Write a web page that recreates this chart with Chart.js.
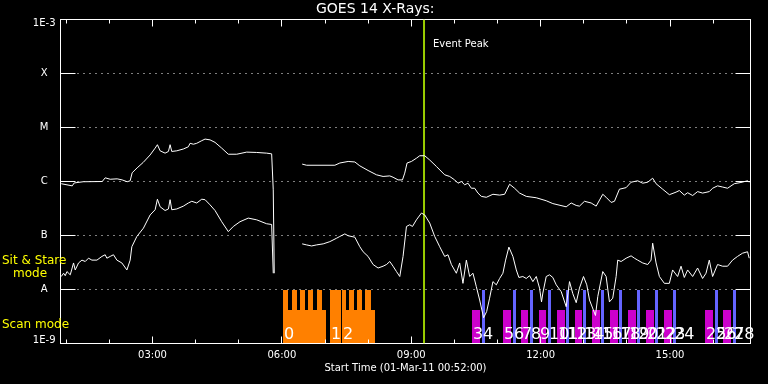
<!DOCTYPE html>
<html><head><meta charset="utf-8">
<script src="https://cdn.jsdelivr.net/npm/chart.js@4.4.0/dist/chart.umd.min.js"></script>
<style>html,body{margin:0;padding:0;background:#000;overflow:hidden;}</style>
</head><body>
<canvas id="c" width="768" height="384"></canvas>
<script>
// Hours since 00:00 UT on 01-Mar-11; null flux = data gap
const longTimes = [
 0.884,1.139,1.185,1.394,1.834,1.903,2.019,2.181,2.297,2.412,2.482,2.528,2.644,2.783,2.945,3.061,3.114,3.177,3.292,3.369,
 3.408,3.447,3.563,3.716,3.832,3.871,3.948,4.026,4.142,4.219,4.334,4.450,4.605,4.758,4.953,5.184,5.416,5.647,5.763,5.800,5.823,
 6.2,
 6.471,6.573,7.229,7.344,7.537,7.692,7.807,7.999,8.194,8.347,8.502,8.578,8.694,8.796,8.849,8.903,9.004,9.120,9.197,9.312,
 9.428,9.583,9.775,9.891,10.007,10.083,10.162,10.239,10.315,10.394,10.470,10.547,10.625,10.741,10.894,11.049,11.165,11.280,11.396,11.512,
 11.667,11.899,12.130,12.283,12.593,12.709,12.825,12.901,13.017,13.172,13.288,13.441,13.519,13.635,13.712,13.827,13.983,14.098,14.251,14.367,
 14.483,14.598,14.677,14.830,14.985,15.140,15.217,15.332,15.409,15.525,15.640,15.756,15.911,15.988,16.103,16.219,16.335,16.490,16.645,16.798,16.837
];
const longFlux = [
 9.1e-7,8.3e-7,9.4e-7,9.9e-7,1.0e-6,1.17e-6,1.1e-6,1.12e-6,1.07e-6,9.9e-7,1.03e-6,1.45e-6,1.79e-6,2.25e-6,3.1e-6,4.15e-6,4.8e-6,3.7e-6,3.35e-6,3.6e-6,
 4.8e-6,3.6e-6,3.7e-6,4.0e-6,4.4e-6,5.1e-6,4.9e-6,5.1e-6,5.7e-6,6.1e-6,5.9e-6,5.3e-6,4.15e-6,3.2e-6,3.2e-6,3.5e-6,3.45e-6,3.35e-6,3.25e-6,7.0e-7,2.0e-8,
 null,
 2.1e-6,2.0e-6,2.0e-6,2.2e-6,2.35e-6,2.3e-6,1.95e-6,1.6e-6,1.33e-6,1.24e-6,1.27e-6,1.2e-6,1.07e-6,1.07e-6,1.43e-6,2.2e-6,2.35e-6,2.7e-6,3.0e-6,3.0e-6,
 2.5e-6,1.9e-6,1.33e-6,1.24e-6,1.07e-6,9.3e-7,1.0e-6,8.7e-7,9.3e-7,7.5e-7,7.5e-7,6.1e-7,5.3e-7,5.1e-7,5.8e-7,5.6e-7,5.8e-7,8.9e-7,7.5e-7,6.1e-7,
 5.3e-7,5.0e-7,4.4e-7,3.9e-7,3.4e-7,4.0e-7,3.6e-7,3.5e-7,4.3e-7,4.0e-7,3.5e-7,5.8e-7,5.1e-7,4.1e-7,4.3e-7,7.2e-7,7.7e-7,9.7e-7,1.03e-6,9.3e-7,
 9.7e-7,1.15e-6,9.1e-7,7.2e-7,5.7e-7,6.35e-7,6.8e-7,5.6e-7,6.2e-7,5.5e-7,6.5e-7,6.1e-7,6.5e-7,7.5e-7,8.3e-7,7.9e-7,7.5e-7,9.1e-7,9.6e-7,1.03e-6,9.7e-7
];
const shortTimes = [
 0.884,0.938,0.977,1.016,1.093,1.169,1.208,1.285,1.364,1.440,1.516,1.595,1.711,1.827,1.903,1.942,2.019,2.095,2.174,2.290,
 2.406,2.482,2.521,2.637,2.790,2.945,3.061,3.114,3.177,3.292,3.369,3.408,3.447,3.563,3.716,3.832,3.911,4.026,4.142,4.219,
 4.334,4.450,4.605,4.758,4.874,5.029,5.221,5.416,5.647,5.763,5.800,
 6.2,
 6.471,6.573,6.689,6.805,6.958,7.113,7.268,7.344,7.460,7.537,7.692,7.807,7.884,7.999,8.115,8.231,8.347,8.426,8.502,8.578,
 8.657,8.734,8.810,8.889,8.965,9.028,9.120,9.236,9.312,9.428,9.544,9.660,9.775,9.852,9.931,10.046,10.123,10.199,10.278,10.354,
 10.431,10.509,10.586,10.678,10.748,10.817,10.894,10.973,11.049,11.125,11.188,11.264,11.357,11.436,11.496,11.588,11.667,11.744,11.820,11.899,
 11.975,12.021,12.052,12.130,12.207,12.283,12.362,12.478,12.593,12.670,12.746,12.825,12.901,12.994,13.070,13.133,13.272,13.325,13.441,13.519,
 13.596,13.672,13.751,13.788,13.867,13.983,14.098,14.175,14.251,14.367,14.483,14.561,14.598,14.677,14.754,14.869,14.985,15.061,15.177,15.256,
 15.332,15.409,15.525,15.640,15.756,15.835,15.911,15.988,16.103,16.219,16.335,16.451,16.566,16.682,16.798,16.837
];
const shortFlux = [
 1.74e-8,2.0e-8,1.8e-8,2.15e-8,1.87e-8,3.1e-8,2.3e-8,3.1e-8,3.5e-8,3.3e-8,3.8e-8,3.5e-8,3.5e-8,4.1e-8,4.4e-8,3.8e-8,4.1e-8,4.4e-8,3.5e-8,3.1e-8,
 2.3e-8,3.5e-8,6.2e-8,9.6e-8,1.37e-7,2.4e-7,3.0e-7,4.7e-7,3.4e-7,2.9e-7,3.1e-7,4.6e-7,3.0e-7,3.1e-7,3.5e-7,4.0e-7,4.3e-7,4.0e-7,4.7e-7,4.6e-7,
 3.7e-7,2.9e-7,1.8e-7,1.18e-7,1.47e-7,1.8e-7,2.1e-7,1.95e-7,1.65e-7,1.6e-7,2.0e-8,
 null,
 7.0e-8,6.7e-8,6.4e-8,6.7e-8,7.0e-8,7.7e-8,8.9e-8,9.6e-8,1.07e-7,9.9e-8,9.3e-8,6.2e-8,5.0e-8,4.1e-8,2.9e-8,2.5e-8,2.7e-8,2.9e-8,3.3e-8,2.7e-8,
 2.15e-8,1.74e-8,4.1e-8,1.47e-7,1.58e-7,1.47e-7,1.95e-7,2.6e-7,2.4e-7,1.7e-7,9.6e-8,6.2e-8,4.1e-8,4.4e-8,2.9e-8,2.0e-8,3.1e-8,1.3e-8,3.5e-8,1.74e-8,
 2.0e-8,1.13e-8,6.4e-9,3.0e-9,3.9e-9,6.9e-9,1.4e-8,1.22e-8,1.6e-8,2.0e-8,3.5e-8,6.1e-8,4.1e-8,2.3e-8,1.67e-8,1.74e-8,1.6e-8,1.8e-8,1.4e-8,1.74e-8,
 1.06e-8,5.9e-9,8.6e-9,1.74e-8,1.87e-8,1.67e-8,1.22e-8,9.1e-9,4.8e-9,1.4e-8,8.4e-9,5.7e-9,1.06e-8,1.74e-8,1.22e-8,6.4e-9,3.3e-9,7.4e-9,2.15e-8,1.74e-8,
 5.9e-9,6.9e-9,1.74e-8,3.5e-8,3.3e-8,3.8e-8,4.2e-8,3.8e-8,3.5e-8,3.1e-8,2.9e-8,3.5e-8,7.2e-8,3.1e-8,1.74e-8,1.3e-8,1.3e-8,2.3e-8,1.74e-8,2.7e-8,
 1.67e-8,2.3e-8,1.74e-8,2.5e-8,1.6e-8,2.0e-8,3.5e-8,1.74e-8,2.9e-8,2.7e-8,2.7e-8,3.5e-8,4.1e-8,4.7e-8,5.0e-8,3.8e-8
];
const eventPeak = 9.296;
// Observation blocks (start / end, hours)
const scanOrangeStart = [6.018, 7.113, 7.391];
const scanOrangeEnd   = [7.013, 7.361, 8.171];
const stareOrangeStart = [6.018, 6.226, 6.418, 6.610, 6.805, 7.113, 7.391, 7.553, 7.745, 7.939];
const stareOrangeEnd   = [6.147, 6.342, 6.534, 6.726, 6.921, 7.361, 7.476, 7.668, 7.861, 8.062];
const scanMagentaStart = [10.401,11.125,11.535,11.952,12.369,12.786,13.202,13.619,14.036,14.453,14.869,15.819,16.235];
const scanMagentaEnd   = [10.586,11.304,11.704,12.130,12.554,12.964,13.381,13.804,14.214,14.638,15.048,16.004,16.421];
const stareBlueStart = [10.632,11.357,11.744,12.160,12.577,12.994,13.411,13.827,14.244,14.661,15.078,16.050,16.467];
const stareBlueEnd   = [10.702,11.419,11.820,12.230,12.654,13.063,13.480,13.897,14.314,14.730,15.147,16.120,16.537];
const yTickValues = [1e-9,1e-8,1e-7,1e-6,1e-5,1e-4,1e-3];
const yTickLabels = ['1E-9','A','B','C','M','X','1E-3'];
const xTickHours = [3,6,9,12,15];
const xTickLabels = ['03:00','06:00','09:00','12:00','15:00'];
const xMinorHours = [1,2,3,4,5,6,7,8,9,10,11,12,13,14,15,16];
const xMin = 52/60, xMax = 16 + 52/60;

const scanTop = 4.2e-9, stareTop = 1e-8;
const FONT = "'DejaVu Sans', 'Liberation Sans', sans-serif";

const px = v => Math.floor(v) + 0.5;

const bgPlugin = {
  id: 'bg',
  beforeDraw(chart) {
    const c = chart.ctx; c.save(); c.fillStyle = '#000'; c.fillRect(0, 0, chart.width, chart.height); c.restore();
  }
};

function fillBlocks(c, xs, ys, starts, ends, top, color) {
  c.fillStyle = color;
  const yT = Math.round(ys.getPixelForValue(top));
  const yB = Math.round(ys.getPixelForValue(1e-9));
  for (let i = 0; i < starts.length; i++) {
    const x0 = Math.round(xs.getPixelForValue(starts[i]));
    const x1 = Math.round(xs.getPixelForValue(ends[i]));
    c.fillRect(x0, yT, Math.max(1, x1 - x0), yB - yT);
  }
}

const framePlugin = {
  id: 'frame',
  beforeDatasetsDraw(chart) {
    const c = chart.ctx, ca = chart.chartArea, xs = chart.scales.x, ys = chart.scales.y;
    c.save();
    fillBlocks(c, xs, ys, scanOrangeStart, scanOrangeEnd, scanTop, '#ff8000');
    fillBlocks(c, xs, ys, stareOrangeStart, stareOrangeEnd, stareTop, '#ff8000');
    fillBlocks(c, xs, ys, scanMagentaStart, scanMagentaEnd, scanTop, '#cc00cc');
    fillBlocks(c, xs, ys, stareBlueStart, stareBlueEnd, stareTop, '#6464ff');
    const L = px(ca.left), R = px(ca.right), T = px(ca.top), B = px(ca.bottom);
    c.strokeStyle = '#fff'; c.lineWidth = 1;
    for (let i = 1; i < yTickValues.length - 1; i++) {
      const y = px(ys.getPixelForValue(yTickValues[i]));
      c.setLineDash([1, 5]);
      c.beginPath(); c.moveTo(L + 17, y); c.lineTo(R - 16, y); c.stroke();
      c.setLineDash([]);
      c.beginPath(); c.moveTo(L, y); c.lineTo(L + 15, y); c.moveTo(R - 15, y); c.lineTo(R, y); c.stroke();
    }
    c.beginPath();
    xMinorHours.forEach(h => {
      const x = px(xs.getPixelForValue(h));
      const len = (h % 3 === 0) ? 7 : 4;
      c.moveTo(x, T); c.lineTo(x, T + len);
      c.moveTo(x, B); c.lineTo(x, B - len);
    });
    c.stroke();
    c.strokeRect(L, T, R - L, B - T);
    c.restore();
  },
  afterDatasetsDraw(chart) {
    const c = chart.ctx, ca = chart.chartArea, xs = chart.scales.x;
    c.save();
    const starts = [...scanOrangeStart];
    for (let i = 0; i < scanMagentaStart.length; i++) { starts.push(scanMagentaStart[i]); starts.push(stareBlueStart[i]); }
    c.fillStyle = '#fff'; c.font = '16px ' + FONT; c.textBaseline = 'alphabetic'; c.textAlign = 'left';
    starts.forEach((t, i) => {
      c.fillText(String(i), Math.round(xs.getPixelForValue(t)) + 1, ca.bottom - 5);
    });
    c.font = '10px ' + FONT;
    c.fillText('Event Peak', xs.getPixelForValue(eventPeak) + 9, 47);
    c.fillStyle = '#ffff00'; c.font = '12px ' + FONT;
    c.fillText('Sit & Stare', 2, 263.5);
    c.fillText('mode', 13, 276.5);
    c.fillText('Scan mode', 2, 327.5);
    c.restore();
  }
};

const toPts = (ts, fs) => ts.map((t, i) => ({x: t, y: fs[i]}));

new Chart(document.getElementById('c').getContext('2d'), {
  type: 'line',
  data: {
    datasets: [
      {label: 'long', data: toPts(longTimes, longFlux), borderColor: '#ffffff', borderWidth: 1, pointRadius: 0, tension: 0, spanGaps: false},
      {label: 'short', data: toPts(shortTimes, shortFlux), borderColor: '#ffffff', borderWidth: 1, pointRadius: 0, tension: 0, spanGaps: false},
      {label: 'peak', data: [{x: eventPeak, y: 1e-9}, {x: eventPeak, y: 1e-3}], borderColor: '#99cc00', borderWidth: 2, pointRadius: 0}
    ]
  },
  options: {
    responsive: false, animation: false, devicePixelRatio: 1,
    layout: {padding: {left: 0, right: 17.5, top: 0, bottom: 0}},
    plugins: {
      legend: {display: false}, tooltip: {enabled: false},
      title: {display: true, text: 'GOES 14 X-Rays:', color: '#ffffff',
        font: {family: FONT, size: 14, weight: 'normal', lineHeight: 1.1}, padding: {top: 1.5, bottom: 2.6}}
    },
    scales: {
      x: {
        type: 'linear', min: xMin, max: xMax,
        grid: {display: false, drawTicks: false}, border: {display: false},
        afterBuildTicks: s => { s.ticks = xTickHours.map(v => ({value: v})); },
        afterFit: s => { s.height = 40.5; },
        ticks: {color: '#ffffff', font: {family: FONT, size: 10}, padding: 6, maxRotation: 0, autoSkip: false,
          callback: (v, i) => xTickLabels[i]},
        title: {display: true, text: 'Start Time (01-Mar-11 00:52:00)', color: '#ffffff',
          font: {family: FONT, size: 10}, padding: {top: 0, bottom: 10}}
      },
      y: {
        type: 'logarithmic', min: 1e-9, max: 1e-3,
        grid: {display: false, drawTicks: false}, border: {display: false},
        afterBuildTicks: s => { s.ticks = yTickValues.map(v => ({value: v})); },
        afterFit: s => { s.width = 60.5; },
        ticks: {color: '#ffffff', font: {family: FONT, size: 10, lineHeight: 0.7}, padding: 5, crossAlign: 'center', autoSkip: false,
          callback: (v, i) => i === 0 ? [yTickLabels[i], ''] : (i === yTickLabels.length - 1 ? ['', yTickLabels[i]] : yTickLabels[i])}
      }
    }
  },
  plugins: [bgPlugin, framePlugin]
});
</script>
</body></html>
